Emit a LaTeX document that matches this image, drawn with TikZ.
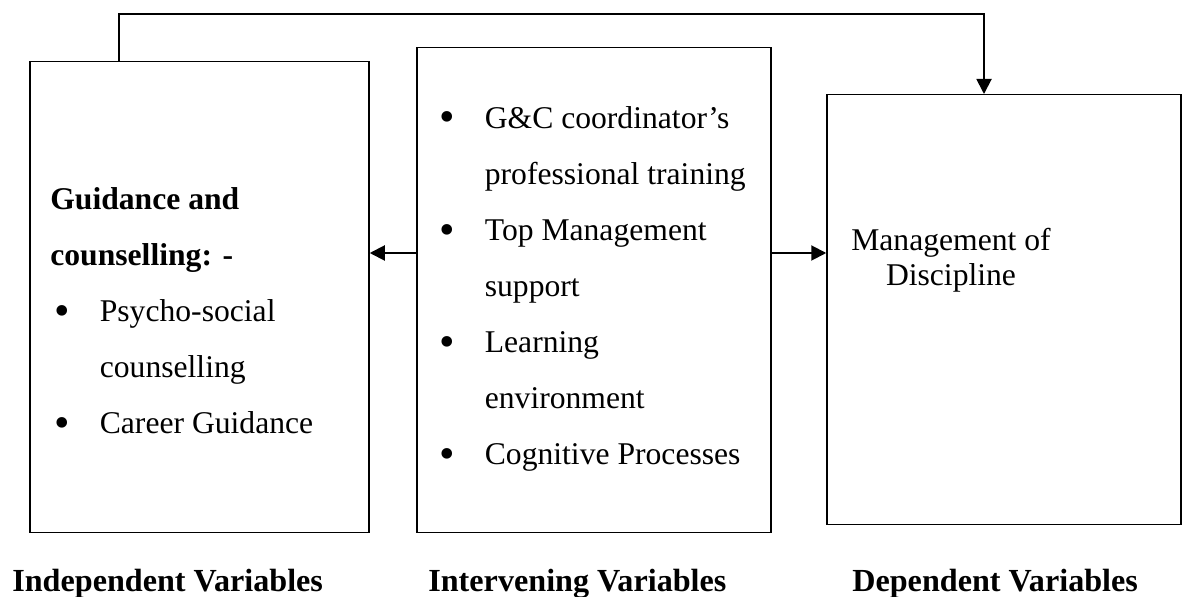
\documentclass[tikz,border=0pt]{standalone}
\usepackage{fontspec}
\setmainfont{Liberation Serif}
\usetikzlibrary{arrows.meta}

\newcommand\bul{\makebox[0.9cm][l]{\raisebox{-0.12em}{\scalebox{1.4}{\textbullet}}}}
\newcommand\gap{\hspace*{0.9cm}}

\begin{document}
\begin{tikzpicture}[
          box/.style  = {draw, line width = 0.85pt, inner sep = 0pt},
          txt/.style  = {inner sep = 0pt, align = left, anchor = north west,
                         font = \fontsize{18}{31.9}\selectfont},
          lab/.style  = {inner sep = 0pt, anchor = base west,
                         font = \fontsize{18.3}{22}\selectfont\bfseries},
          flow/.style = {line width = 1.1pt, -{Triangle[length = 0.3cm, width = 0.3cm]}}]
          \useasboundingbox (0, 0) rectangle (23.64, 11.92);

          \node[box, minimum width = 6.78cm, minimum height = 9.42cm] at ( 3.99, 5.976) (lbox) {};
          \node[box, minimum width = 7.08cm, minimum height = 9.70cm] at (11.88, 6.116) (mbox) {};
          \node[box, minimum width = 7.08cm, minimum height = 8.59cm] at (20.08, 5.730) (rbox) {};

          \node[txt] at (1.00, 8.528) (ltext) {\strut\textbf{Guidance and}\\
            \textbf{counselling: -}\\
            \hspace*{0.09cm}\bul Psycho-social\\
            \hspace*{0.09cm}\gap counselling\\
            \hspace*{0.09cm}\bul Career Guidance};
          \node[txt] at (8.79, 10.148) (mtext) {\strut\bul G\&C coordinator’s\\
            \gap professional training\\
            \bul Top Management\\
            \gap support\\
            \bul Learning\\
            \gap environment\\
            \bul Cognitive Processes};
          \node[txt, align = center, anchor = north, font = \fontsize{18}{19.9}\selectfont]
            at (19.02, 7.41) (rtext) {\strut Management of\\Discipline};

          \node[lab] at ( 0.24, 0.10) (ilab) {Independent Variables};
          \node[lab] at ( 8.56, 0.10) (vlab) {Intervening Variables};
          \node[lab] at (17.04, 0.10) (dlab) {Dependent Variables};

          \coordinate (ltop) at ( 2.38, 11.64);
          \coordinate (rtop) at (19.68, 11.64);
          \coordinate (mid)  at (11.88,  6.86);

          \draw[flow] (ltop |- lbox.north) -- (ltop) -- (rtop) -- (rtop |- rbox.north);
          \draw[flow] (mid -| mbox.west) -- (mid -| lbox.east);
          \draw[flow] (mid -| mbox.east) -- (mid -| rbox.west);
        \end{tikzpicture}
\end{document}
